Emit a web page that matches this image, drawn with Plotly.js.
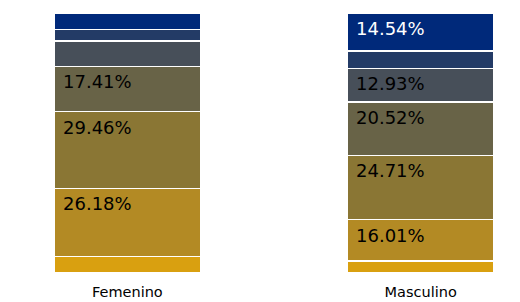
<!DOCTYPE html>
<html><head><meta charset="utf-8">
<script src="https://cdn.plot.ly/plotly-3.0.1.min.js"></script>
<style>html,body{margin:0;padding:0;background:#fff}#c{width:520px;height:302px}</style>
</head><body><div id="c"></div>
<script>
const categories = ["Femenino", "Masculino"];
// segments from bottom to top
const seg1 = [6.40, 4.54];
const seg2 = [26.18, 16.01];
const seg3 = [29.46, 24.71];
const seg4 = [17.41, 20.52];
const seg5 = [9.75, 12.93];
const seg6 = [4.55, 6.75];
const seg7 = [6.25, 14.54];
const series = [seg1, seg2, seg3, seg4, seg5, seg6, seg7];
const colors = ["#D9A010", "#B38A24", "#8A7634", "#686347", "#474F59", "#233B66", "#00297A"];
const textColors = ["#000", "#000", "#000", "#000", "#000", "#000", "#fff"];
const threshold = 10;

const traces = series.map((vals, i) => ({
  type: "bar", x: [0, 1], y: vals, width: 0.5,
  marker: {color: colors[i], line: {color: "#fff", width: 1.5}},
  hoverinfo: "none", showlegend: false
}));

const annotations = [];
categories.forEach((c, ci) => {
  let cum = 0;
  series.forEach((vals, si) => {
    cum += vals[ci];
    if (vals[ci] > threshold) {
      annotations.push({
        x: ci - 0.25, y: cum, xref: "x", yref: "y",
        xanchor: "left", yanchor: "top", xshift: 7, yshift: -3,
        text: vals[ci].toFixed(2) + "%", showarrow: false,
        font: {family: "DejaVu Sans", size: 18, color: textColors[si]}
      });
    }
  });
});

const layout = {
  width: 520, height: 302, barmode: "stack",
  margin: {l: 32, r: 4, t: 13, b: 29},
  paper_bgcolor: "#fff", plot_bgcolor: "#fff",
  xaxis: {range: [-0.325, 1.325], tickvals: [0, 1], ticktext: categories,
    showgrid: false, zeroline: false, showline: false, ticks: "",
    ticklabelstandoff: 8,
    tickfont: {family: "DejaVu Sans", size: 14.5, color: "#000"}},
  yaxis: {range: [0, 100], visible: false, showgrid: false, zeroline: false},
  annotations: annotations
};
Plotly.newPlot("c", traces, layout, {staticPlot: true, displayModeBar: false});
</script></body></html>
